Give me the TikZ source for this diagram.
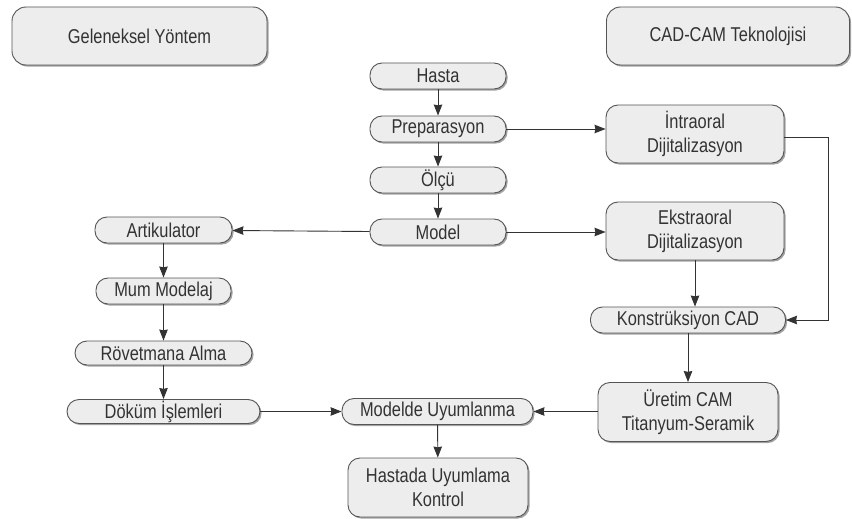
\documentclass[tikz,border=0pt]{standalone}
\usepackage{fontspec}
\setmainfont{Liberation Sans}[FakeStretch=0.82]
\usetikzlibrary{arrows.meta,shadows}

\definecolor{boxfill}{HTML}{EDEDED}
\definecolor{boxline}{HTML}{555555}
\definecolor{inktext}{HTML}{333333}

\tikzset{
  box/.style={draw=boxline,fill=boxfill,line width=.9pt,text=inktext,
    rounded corners=12pt,align=center,inner sep=0pt,
    drop shadow={shadow xshift=1.6pt,shadow yshift=-1.6pt,fill=black!45,opacity=.8},
    font=\fontsize{20}{24}\selectfont},
  pill/.style={box,rounded corners=12pt,minimum height=26pt},
  flow/.style={draw=inktext,line width=.9pt,-{Stealth[length=11pt,width=8.5pt,inset=.8pt]}}
}

\begin{document}
\begin{tikzpicture}[x=1pt,y=-1pt]
	\useasboundingbox (0,0) rectangle (852,519);

	% headings
	\node (gel)[box,rounded corners=14pt,minimum width=255pt,minimum height=58pt] at (139.5,36) {Geleneksel Yöntem};
	\node (cad)[box,rounded corners=14pt,minimum width=243pt,minimum height=58pt] at (728,36) {CAD-CAM Teknolojisi};

	% middle column
	\node (hasta)[pill,minimum width=136pt] at (438,76) {Hasta};
	\node (prep)[pill,minimum width=136pt] at (438,129) {Preparasyon};
	\node (olcu)[pill,minimum width=136pt] at (438,180) {Ölçü};
	\node (model)[pill,minimum width=136pt] at (438,232) {Model};

	% CAD-CAM side
	\node (intra)[box,minimum width=178pt,minimum height=58pt] at (695,134) {İntraoral\\Dijitalizasyon};
	\node (ekstra)[box,minimum width=178pt,minimum height=58pt] at (695,231) {Ekstraoral\\Dijitalizasyon};
	\node (kons)[pill,minimum width=195pt] at (688,320) {Konstrüksiyon CAD};
	\node (uretim)[box,minimum width=180pt,minimum height=59pt] at (688,412) {Üretim CAM\\Titanyum-Seramik};
	\coordinate (turn) at (828,137);

	% classical side
	\node (art)[pill,minimum width=137pt] at (163.5,230) {Artikulator};
	\node (mum)[pill,minimum width=135pt] at (163.5,291) {Mum Modelaj};
	\node (rov)[pill,minimum width=177pt,minimum height=24pt] at (163.5,353) {Rövetmana Alma};
	\node (dokum)[pill,minimum width=193pt,minimum height=24pt] at (163.5,411.5) {Döküm İşlemleri};

	% bottom
	\node (uyum)[pill,minimum width=191pt] at (437.5,411.5) {Modelde Uyumlanma};
	\node (kontrol)[box,minimum width=180pt,minimum height=59pt] at (438,487.5) {Hastada Uyumlama\\Kontrol};

	\draw[flow] (hasta) -- (prep);
	\draw[flow] (prep) -- (olcu);
	\draw[flow] (olcu) -- (model);
	\draw[flow] (prep) -- (prep -| intra.west);
	\draw[flow] (model) -- (model -| ekstra.west);
	\draw[flow] (model) -- (art);
	\draw[flow] (art) -- (mum);
	\draw[flow] (mum) -- (rov);
	\draw[flow] (rov) -- (dokum);
	\draw[flow] (dokum) -- (uyum);
	\draw[flow] (uretim.west |- uyum) -- (uyum);
	\draw[flow] (uyum) -- (kontrol);
	\draw[flow] (ekstra.south) -- (ekstra.south |- kons.north);
	\draw[flow] (kons) -- (uretim);
	\draw[flow] (intra.east |- turn) -- (turn) |- (kons.east);

\end{tikzpicture}
\end{document}
